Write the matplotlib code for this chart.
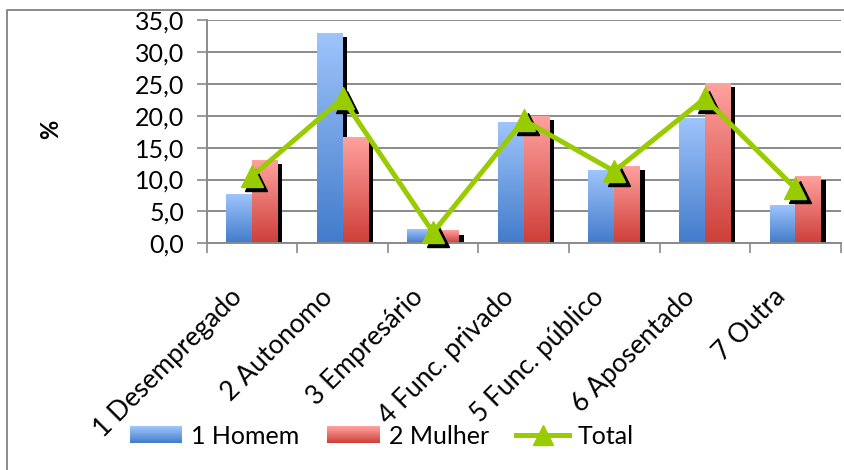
import numpy as np
import matplotlib
matplotlib.use("Agg")
import matplotlib.pyplot as plt
from matplotlib.transforms import ScaledTranslation
from matplotlib.patches import Rectangle
from matplotlib.lines import Line2D
from matplotlib.legend_handler import HandlerBase
from matplotlib.colors import to_rgb

plt.rcParams['font.family'] = ['Lato', 'DejaVu Sans']

# ---- data -------------------------------------------------------------
categories = ["1 Desempregado", "2 Autonomo", "3 Empresário", "4 Func. privado",
              "5 Func. público", "6 Aposentado", "7 Outra"]
homem = [7.6, 32.9, 2.1, 18.9, 11.3, 19.5, 5.9]
mulher = [13.0, 16.5, 1.9, 19.8, 12.0, 25.0, 10.5]
total = [10.5, 22.7, 1.7, 19.3, 11.3, 22.7, 8.6]
series_names = ["1 Homem", "2 Mulher", "Total"]
y_ticks = [0, 5, 10, 15, 20, 25, 30, 35]

# ---- style ------------------------------------------------------------
BLUE_TOP, BLUE_BOT = "#9EC4FB", "#437CCB"
RED_TOP, RED_BOT = "#FFA19E", "#CE3F39"
GREEN = "#99CC00"
GRID = "#8A8A8A"
BAR_W = 0.286

fig = plt.figure(figsize=(8.45, 4.70), dpi=100)
ax = fig.add_axes([206.7 / 845, 1 - 243.3 / 470, 634 / 845, 223.3 / 470])

x = np.arange(len(categories))
shadow = ax.transData + ScaledTranslation(4.5 / 100, -3.5 / 100, fig.dpi_scale_trans)


def gradient(top, bot, n=64):
    t = np.linspace(0, 1, n)[:, None]
    c = (1 - t) * np.array(to_rgb(top)) + t * np.array(to_rgb(bot))
    return c[:, None, :]


def draw_series(values, offset, top, bot, z):
    # drop shadow behind the bars
    ax.bar(x + offset, values, BAR_W, align='edge', color='black',
           transform=shadow, zorder=z)
    bars = ax.bar(x + offset, values, BAR_W, align='edge', color='none',
                  zorder=z + 0.1)
    img = gradient(top, bot)
    for b in bars:
        x0, y0 = b.get_x(), b.get_y()
        ax.imshow(img, extent=[x0, x0 + b.get_width(), y0, y0 + b.get_height()],
                  aspect='auto', origin='upper', interpolation='bilinear',
                  zorder=z + 0.05)


draw_series(homem, -BAR_W, BLUE_TOP, BLUE_BOT, 2.0)
draw_series(mulher, 0.0, RED_TOP, RED_BOT, 2.3)

# total line with marker shadows
ax.plot(x, total, linestyle='none', marker='^', ms=16, color='black',
        transform=shadow, zorder=3.0, clip_on=False)
ax.plot(x, total, color=GREEN, lw=3.6, marker='^', ms=16, zorder=3.2,
        clip_on=False)

# ---- axes -------------------------------------------------------------
ax.set_xlim(-0.5, len(categories) - 0.5)
ax.set_ylim(0, 35)
ax.set_yticks(y_ticks)
ax.set_yticklabels([f"{v:.1f}".replace('.', ',') for v in y_ticks])
ax.yaxis.grid(True, color=GRID, lw=1.4)
ax.set_axisbelow(True)

for s in ('top', 'right'):
    ax.spines[s].set_visible(False)
for s in ('left', 'bottom'):
    ax.spines[s].set_color(GRID)
    ax.spines[s].set_linewidth(1.4)

ax.tick_params(axis='y', length=7, width=1.2, color=GRID, pad=9,
               labelsize=18, labelcolor='black')
ax.set_xticks(x)
ax.set_xticks(np.arange(-0.5, len(categories)), minor=True)
ax.tick_params(axis='x', which='minor', length=7, width=1.2, color=GRID)
ax.tick_params(axis='x', which='major', length=0, pad=0, labelsize=19)
ax.set_xticklabels(categories, rotation=45, ha='right', va='center',
                   rotation_mode='anchor')
lab_shift = ScaledTranslation(-14 / 100, -50 / 100, fig.dpi_scale_trans)
for lab in ax.get_xticklabels():
    lab.set_transform(lab.get_transform() + lab_shift)

fig.text(51 / 845, 1 - 129 / 470, "%", rotation=90, ha='center', va='center',
         fontsize=17, fontweight='bold')


# ---- legend -----------------------------------------------------------
class GradientHandler(HandlerBase):
    def __init__(self, top, bot, n=24):
        super().__init__()
        self.top, self.bot, self.n = top, bot, n

    def create_artists(self, legend, orig_handle, xdescent, ydescent,
                       width, height, fontsize, trans):
        top, bot = np.array(to_rgb(self.top)), np.array(to_rgb(self.bot))
        arts = []
        for k in range(self.n):
            t = k / (self.n - 1)
            c = (1 - t) * bot + t * top
            arts.append(Rectangle((-xdescent, -ydescent + height * k / self.n),
                                  width, height / self.n * 1.05, facecolor=c,
                                  edgecolor='none', transform=trans))
        return arts


h_homem = Rectangle((0, 0), 1, 1)
h_mulher = Rectangle((0, 0), 1, 1)
h_total = Line2D([], [], color=GREEN, lw=3.6, marker='^', ms=14)
fig.legend([h_homem, h_mulher, h_total], series_names, loc='center',
           bbox_to_anchor=(382 / 845, 1 - 436 / 470), ncol=3, frameon=False,
           fontsize=18, handlelength=2.1, handleheight=0.65,
           handletextpad=0.36, columnspacing=1.1,
           handler_map={h_homem: GradientHandler(BLUE_TOP, BLUE_BOT),
                        h_mulher: GradientHandler(RED_TOP, RED_BOT)})

# chart frame
fig.add_artist(Line2D([7 / 845, 7 / 845, 1], [0, 1 - 10 / 470, 1 - 10 / 470],
                      transform=fig.transFigure, color=GRID, lw=1.4))

fig.savefig("out.png", dpi=100)
